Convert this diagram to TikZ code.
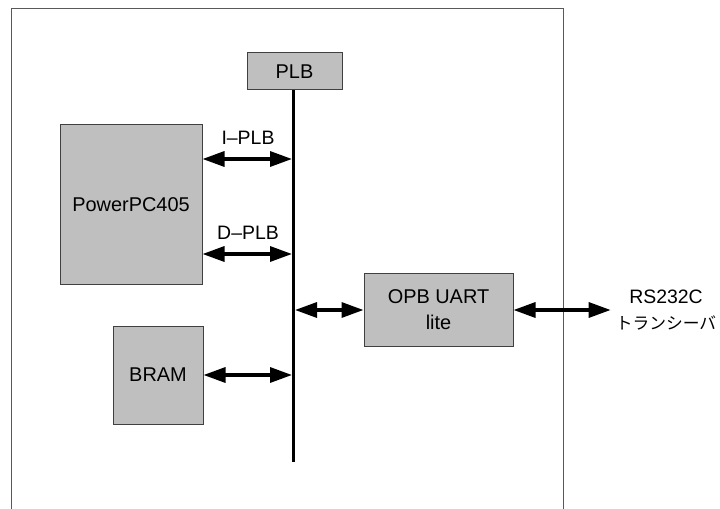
\documentclass[tikz,border=0pt]{standalone}
\usepackage{fontspec}
\setmainfont{Liberation Sans}
\newfontfamily\jpfont{Noto Sans CJK JP}
\usetikzlibrary{arrows.meta}
\begin{document}
\begin{tikzpicture}[x=1bp,y=-1bp,
  frame/.style={draw=black!65, line width=1bp},
  blk/.style={draw=black!75, fill=black!25, line width=1bp, inner sep=0pt,
    font=\fontsize{20}{26}\selectfont, align=center},
  bus/.style={line width=3bp},
  conn/.style={line width=3.3bp,
    {Triangle[length=22bp,width=15bp]}-{Triangle[length=22bp,width=15bp]}},
  lbl/.style={font=\fontsize{19.5}{26}\selectfont, inner sep=0pt, align=center}]
\useasboundingbox[fill=white] (0,0) rectangle (720,509);
\draw[frame] (11,510) -- (11,9) -- (563,9) -- (563,510);

\node[blk, minimum width=95bp, minimum height=37bp] (plb) at (294.5,71.5) {PLB};
\node[blk, minimum width=142bp, minimum height=159bp] (ppc) at (131,204.5) {PowerPC405};
\node[blk, minimum width=90bp, minimum height=98bp] (bram) at (158,375) {BRAM};
\node[blk, minimum width=149bp, minimum height=72bp] (opb) at (438.5,310) {OPB UART\\lite};
\node[lbl] (rs) at (666,310) {RS232C\\{\jpfont\fontsize{16.8}{20}\selectfont トランシーバ}};

\coordinate (bend) at (293.5,462);
\coordinate (bI) at (293.5,159);
\coordinate (bD) at (293.5,254);
\coordinate (bO) at (293.5,310);
\coordinate (bB) at (293.5,375);

\draw[bus] (plb.south -| bend) -- (bend);

\draw[conn, shorten >=1.5bp] (ppc.east |- bI) -- (bI)
  node[lbl, midway, above=13bp] (li) {I–PLB};
\draw[conn, shorten >=1.5bp] (ppc.east |- bD) -- (bD)
  node[lbl, midway, above=13bp] (ld) {D–PLB};
\draw[conn, shorten >=1.5bp] (bram.east |- bB) -- (bB);
\draw[conn, shorten <=1.5bp] (bO) -- (opb.west);
\draw[conn, shorten >=5bp] (opb.east) -- (rs.west);
\end{tikzpicture}
\end{document}
